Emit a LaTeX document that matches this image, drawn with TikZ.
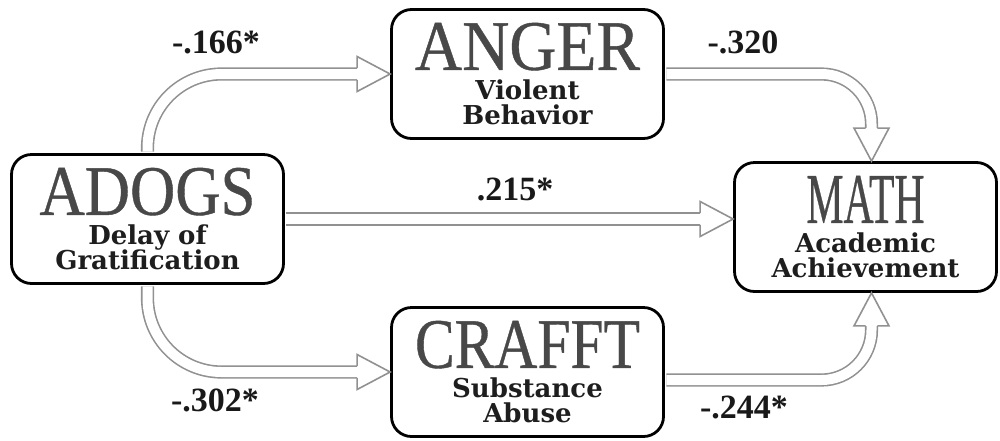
\documentclass[tikz,border=0pt]{standalone}
\usepackage{fontspec}
\usepackage{graphicx}
\setmainfont{Liberation Serif}
\newfontfamily\subfont{DejaVu Serif}
\newfontfamily\hdrfont{Liberation Serif}[FakeBold=0.6]
\usetikzlibrary{positioning, calc}

\definecolor{shaftgray}{RGB}{145,145,145}
\definecolor{hdrgray}{RGB}{72,72,72}
\definecolor{subblack}{RGB}{30,30,30}
\definecolor{coefblack}{RGB}{25,25,25}

% big grey heading, squeezed to the width it has in the box
\newcommand{\hdr}[2]{\textcolor{hdrgray}{\resizebox{#1}{23.5pt}{\hdrfont\mdseries #2}}}
% sub-title lines sit close together
\newcommand{\subtext}{\subfont\bfseries\fontsize{13}{12.5}\selectfont\lineskiplimit=-20pt\relax}
% hollow arrow head: tip point, direction
\newcommand{\openhead}[2]{%
  \filldraw[headline, shift={(#1)}, rotate=#2] (-33,-5.8) -- (-33,-17.5) -- (0,0) -- (-33,17.5) -- (-33,5.8);}

\begin{document}
\begin{tikzpicture}[x=0.5pt, y=-0.5pt,
    box/.style={draw=black, line width=1.4pt, rounded corners=10pt, fill=white,
      minimum width=136pt, minimum height=64.5pt, inner sep=0pt, align=center,
      text=subblack, font=\subtext},
    shaft/.style={draw=shaftgray, line width=0.8pt, double=white, double distance=5pt},
    headline/.style={draw=shaftgray, line width=0.8pt, fill=white, line join=miter},
    coef/.style={font=\bfseries\fontsize{17}{20}\selectfont, text=coefblack}]

    \useasboundingbox (0,0) rectangle (1000,440);

    % the four variables
    \node[box] (adogs) at (147.5,219) {\hdr{108pt}{ADOGS}\\[2.5pt]Delay of\\Gratification};
    \node[box] (anger) at (527.5,74) {\hdr{112.5pt}{ANGER}\\[2.5pt]Violent\\Behavior};
    \node[box] (crafft) at (527.5,372) {\hdr{112.5pt}{CRAFFT}\\[2.5pt]Substance\\Abuse};
    \node[box, minimum width=131pt] (math) at (865.5,227) {\hdr{59pt}{MATH}\\[2.5pt]Academic\\Achievement};

    % where the heads meet the boxes
    \coordinate (mathin) at (adogs.east -| math.west);
    \coordinate (mathtop) at ([xshift=3pt]math.north);
    \coordinate (mathbot) at ([xshift=3pt]math.south);

    % ADOGS -> ANGER
    \draw[shaft, rounded corners=37pt] ([yshift=0.7pt]adogs.north) |- ([xshift=-16.5pt]anger.west);
    \openhead{anger.west}{0}
    % ANGER -> MATH
    \draw[shaft, rounded corners=25pt] ([xshift=0.7pt]anger.east) -| ([yshift=16.5pt]mathtop);
    \openhead{mathtop}{-90}
    % ADOGS -> MATH
    \draw[shaft] ([xshift=0.7pt]adogs.east) -- ([xshift=-16.5pt]mathin);
    \openhead{mathin}{0}
    % ADOGS -> CRAFFT
    \draw[shaft, rounded corners=37pt] ([yshift=-0.7pt]adogs.south) |- ([xshift=-16.5pt]crafft.west);
    \openhead{crafft.west}{0}
    % CRAFFT -> MATH
    \draw[shaft, rounded corners=25pt] ([xshift=0.7pt, yshift=-4pt]crafft.east) -| ([yshift=-16.5pt]mathbot);
    \openhead{mathbot}{90}

    % path coefficients
    \node[coef] (c1) at (216,42) {-.166*};
    \node[coef] (c2) at (743,42) {-.320};
    \node[coef] (c3) at (515,189) {.215*};
    \node[coef] (c4) at (215,400) {-.302*};
    \node[coef] (c5) at (744,407) {-.244*};
\end{tikzpicture}
\end{document}
